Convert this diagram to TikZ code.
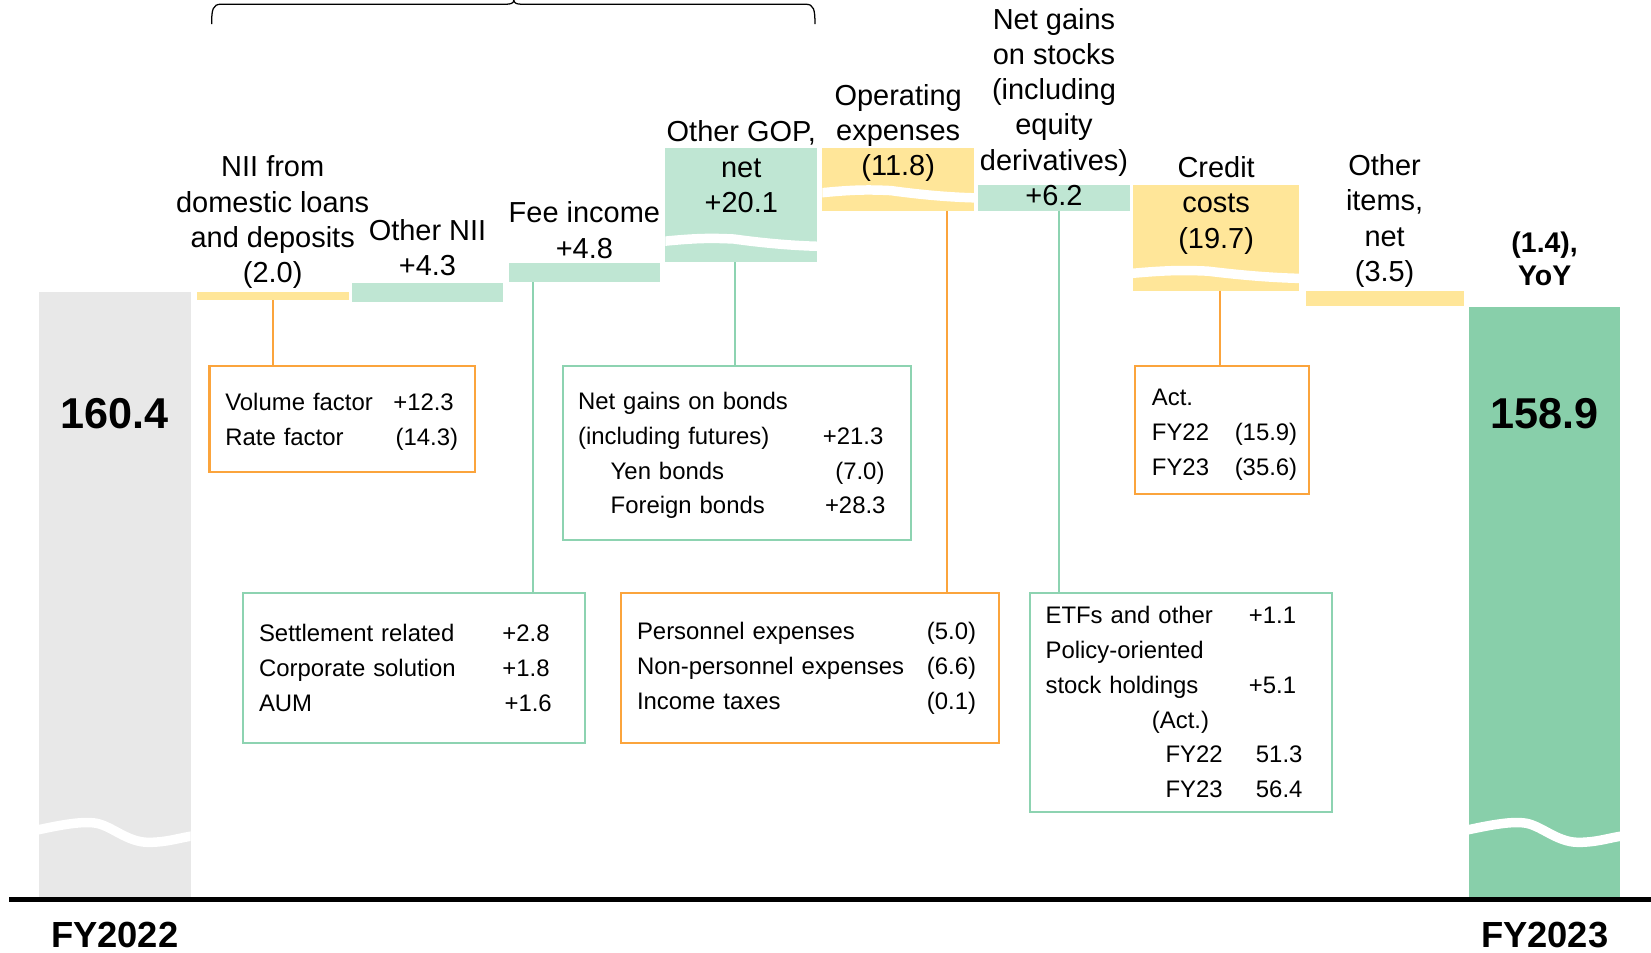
\documentclass[tikz,border=0pt]{standalone}
\usepackage{fontspec}
\setmainfont{Liberation Sans}
\definecolor{gold}{HTML}{FFE699}
\definecolor{mint}{HTML}{BFE6D3}
\definecolor{total}{HTML}{88CFAA}
\definecolor{prior}{HTML}{E8E8E8}
\definecolor{orng}{HTML}{FBA43C}
\definecolor{mintline}{HTML}{8DD3B1}

\begin{document}
\begin{tikzpicture}[
  x=1pt, y=-1pt,
  every node/.style={align=center, inner sep=0pt, outer sep=0pt},
  lbl/.style={font=\fontsize{27.5}{33.5}\selectfont},
  bignum/.style={font=\fontsize{41}{41}\selectfont\bfseries},
  fylbl/.style={font=\fontsize{34.5}{34.5}\selectfont\bfseries},
  stepbar/.style={anchor=north west, minimum width=144pt},
  goldbar/.style={stepbar, fill=gold},
  mintbar/.style={stepbar, fill=mint},
  wave/.style={draw=white, line width=9pt},
  detail/.style={anchor=north west, align=left, line width=2pt, inner xsep=15pt,
    font=\fontsize{22.7}{33}\selectfont},
  obox/.style={detail, draw=orng},
  gbox/.style={detail, draw=mintline},
  oline/.style={draw=orng, line width=2pt},
  gline/.style={draw=mintline, line width=2pt}
]
\useasboundingbox (0,0) rectangle (1568,905);

% ============================================================
% TOTALS: FY2022 and FY2023
% ============================================================

\node[stepbar, fill=prior, minimum height=575pt] (fy22bar) at (37,277) {};
\node[stepbar, fill=total, minimum height=560pt] (fy23bar) at (1395,292) {};

\begin{scope}
  \clip (fy22bar.north west) rectangle (fy22bar.south east);
  \draw[wave] (32,789) .. controls (55,784) and (75,780) .. (89,781.5) .. controls (105,783) and (120,800) .. (141,800) .. controls (160,800) and (172,795) .. (186,793.5);
\end{scope}
\begin{scope}
  \clip (fy23bar.north west) rectangle (fy23bar.south east);
  \draw[wave] (1390,789) .. controls (1413,784) and (1433,780) .. (1447,781.5) .. controls (1463,783) and (1478,800) .. (1499,800) .. controls (1518,800) and (1530,795) .. (1544,793.5);
\end{scope}

\draw[line width=5pt] (9,854) -- (1568,854);

\node[bignum] (v22) at ([yshift=-116pt]fy22bar.north) {160.4};
\node[bignum] (v23) at ([yshift=-101pt]fy23bar.north) {158.9};
\node[font=\fontsize{27}{31}\selectfont\bfseries] (yoy) at ([yshift=46pt]fy23bar.north) {(1.4),\\YoY};
\node[fylbl] (fy22) at ([yshift=-36pt]fy22bar.south) {FY2022};
\node[fylbl] (fy23) at ([yshift=-36pt]fy23bar.south) {FY2023};

% ============================================================
% STEPS
% ============================================================

\node[goldbar, minimum height=8pt] (nii) at (187,277) {};
\node[mintbar, minimum height=17.5pt] (onii) at (334,269) {};
\node[mintbar, minimum height=18pt] (fee) at (483,250) {};
\node[mintbar, minimum height=108pt] (gop) at (632,141) {};
\node[goldbar, minimum height=59pt] (opex) at (781,141) {};
\node[mintbar, minimum height=24pt] (stocks) at (929,176) {};
\node[goldbar, minimum width=158pt, minimum height=100pt] (credit) at (1076,176) {};
\node[goldbar, minimum width=150pt, minimum height=15pt] (other) at (1240,276) {};

\begin{scope}
  \clip (gop.north west) rectangle (gop.south east);
  \draw[wave] (627,229.5) .. controls (661,226) and (675,226) .. (697,227) .. controls (726,231) and (754,233.5) .. (781,234);
\end{scope}
\begin{scope}
  \clip (opex.north west) rectangle (opex.south east);
  \draw[wave] (776,183.5) .. controls (810,180) and (824,180) .. (846,181) .. controls (875,185) and (903,187.5) .. (930,188);
\end{scope}
\begin{scope}
  \clip (credit.north west) rectangle (credit.south east);
  \draw[wave] (1071,260) .. controls (1108,256.5) and (1124,256.5) .. (1147,257.5) .. controls (1180,261.5) and (1210,264) .. (1239,264.5);
\end{scope}

\node[lbl] (niilbl) at ([yshift=66pt]nii.north) {NII from\\domestic loans\\and deposits\\(2.0)};
\node[lbl] (oniilbl) at ([yshift=34pt]onii.north) {Other NII\\+4.3};
\node[lbl] (feelbl) at ([yshift=31.5pt]fee.north) {Fee income\\+4.8};
\node[lbl] (goplbl) at ([yshift=-17.5pt]gop.north) {Other GOP,\\net\\+20.1};
\node[lbl] (opexlbl) at ([yshift=14.5pt]opex.north) {Operating\\expenses\\(11.8)};
\node[lbl] (stockslbl) at ([yshift=74.5pt]stocks.north) {Net gains\\on stocks\\(including\\equity\\derivatives)\\+6.2};
\node[lbl] (creditlbl) at ([yshift=-19pt]credit.north) {Credit\\costs\\(19.7)};
\node[lbl] (otherlbl) at ([yshift=66pt]other.north) {Other\\items,\\net\\(3.5)};

% brace over the gross operating profit items
\draw[line width=1.2pt] (201,23) .. controls (201,9) and (202,4) .. (210,4) -- (481,4) .. controls (485,4) and (488,3) .. (488,0) .. controls (488,3) and (491,4) .. (495,4) -- (765,4) .. controls (773,4) and (774,9) .. (774,23);

% ============================================================
% DETAIL BOXES
% ============================================================

\node[obox, text width=222pt, minimum height=100pt] (volbox) at (199,348)
  {\rule{0pt}{22pt}Volume factor\hfill +12.3\hspace*{5pt}\mbox{}\\Rate factor\hfill (14.3)\hspace*{1pt}\mbox{}};
\node[gbox, inner xsep=14pt, text width=302pt, minimum height=165pt] (bondbox) at (535,348)
  {\rule{0pt}{20.6pt}Net gains on bonds\\(including futures)\hfill +21.3\hspace*{12pt}\mbox{}\\
   \hspace*{31pt}Yen bonds\hfill (7.0)\hspace*{11pt}\mbox{}\\
   \hspace*{31pt}Foreign bonds\hfill +28.3\hspace*{10pt}\mbox{}};
\node[gbox, text width=295pt, minimum height=143pt] (feebox) at (231,563)
  {Settlement related\hfill +2.8\hspace*{19pt}\mbox{}\\Corporate solution\hfill +1.8\hspace*{19pt}\mbox{}\\AUM\hfill +1.6\hspace*{17pt}\mbox{}};
\node[obox, text width=329pt, minimum height=143pt] (costbox) at (590,563)
  {Personnel expenses\hfill (5.0)\hspace*{7pt}\mbox{}\\Non-personnel expenses\hfill (6.6)\hspace*{7pt}\mbox{}\\Income taxes\hfill (0.1)\hspace*{7pt}\mbox{}};
\node[obox, inner xsep=11pt, text width=143pt, minimum height=121pt] (actbox) at (1078,348)
  {\rule{0pt}{24pt}\hspace*{5pt}Act.\\\hspace*{5pt}FY22\hfill (15.9)\\\hspace*{5pt}FY23\hfill (35.6)};
\node[gbox, text width=257pt, minimum height=208pt] (stockbox) at (978,563)
  {ETFs and other\hfill +1.1\hspace*{19pt}\mbox{}\\Policy-oriented\\stock holdings\hfill +5.1\hspace*{19pt}\mbox{}\\
   \hspace*{101pt}(Act.)\\
   \hspace*{114pt}FY22\hfill 51.3\hspace*{13pt}\mbox{}\\
   \hspace*{114pt}FY23\hfill 56.4\hspace*{13pt}\mbox{}};

\draw[oline] (nii.south) -- (nii.south |- volbox.north);
\coordinate (gopout) at ([xshift=-6pt]gop.south);
\draw[gline] (gopout) -- (gopout |- bondbox.north);
\coordinate (feeout) at ([xshift=-49pt]fee.south);
\draw[gline] (feeout) -- (feeout |- feebox.north);
\coordinate (opexout) at ([xshift=46pt]opex.south);
\draw[oline] (opexout) -- (opexout |- costbox.north);
\coordinate (stocksout) at ([xshift=5pt]stocks.south);
\draw[gline] (stocksout) -- (stocksout |- stockbox.north);
\coordinate (creditout) at ([xshift=4pt]credit.south);
\draw[oline] (creditout) -- (creditout |- actbox.north);

\end{tikzpicture}
\end{document}
